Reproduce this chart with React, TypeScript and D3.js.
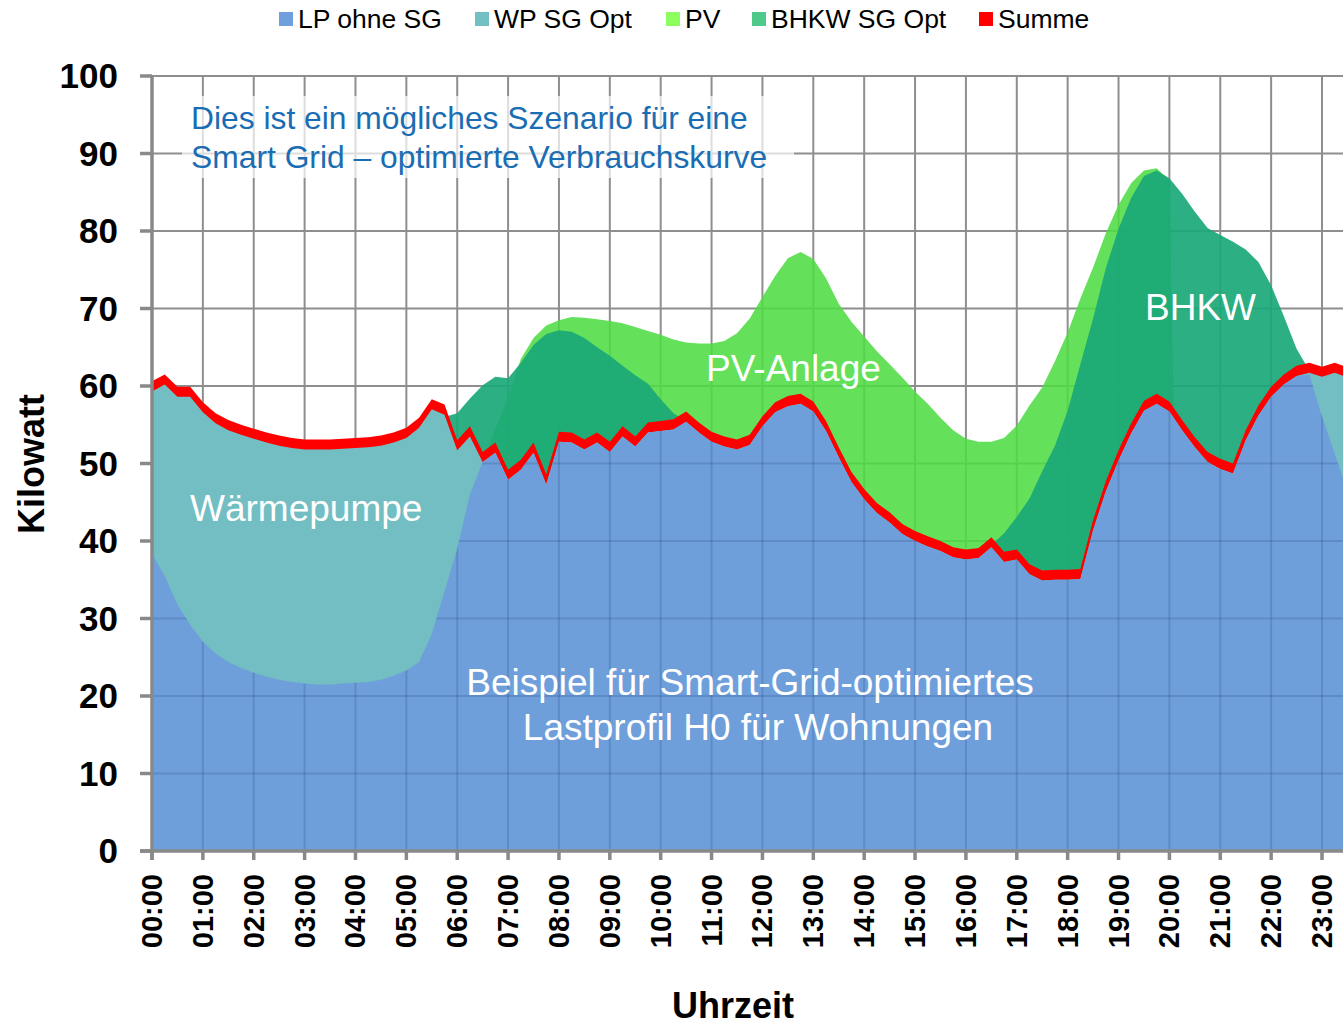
import * as d3 from "d3";
import React, { useEffect, useRef } from "react";

// 15-minute values, one row per hour (00:00 ... 23:45)
const hourLabels = [
  "00:00", "01:00", "02:00", "03:00", "04:00", "05:00", "06:00", "07:00",
  "08:00", "09:00", "10:00", "11:00", "12:00", "13:00", "14:00", "15:00",
  "16:00", "17:00", "18:00", "19:00", "20:00", "21:00", "22:00", "23:00",
];
const yTicks = [0, 10, 20, 30, 40, 50, 60, 70, 80, 90, 100];

const lpOhneSG = [
  38.4, 35.5, 31.8, 29.2,
  27.0, 25.5, 24.4, 23.6,
  23.0, 22.5, 22.1, 21.8,
  21.6, 21.5, 21.5, 21.6,
  21.7, 21.8, 22.1, 22.6,
  23.3, 24.4, 28.0, 33.5,
  39.0, 46.0, 50.2, 51.4,
  47.9, 49.2, 51.4, 47.3,
  52.8, 52.7, 51.8, 52.7,
  51.5, 53.5, 52.2, 54.0,
  54.2, 54.4, 55.4, 54.0,
  52.8, 52.2, 51.8, 52.4,
  54.8, 56.6, 57.4, 57.7,
  56.7, 54.2, 50.8, 47.6,
  45.4, 43.6, 42.4, 40.9,
  40.0, 39.3, 38.7, 37.9,
  37.6, 37.8, 39.2, 37.3,
  37.6, 35.7, 34.9, 35.0,
  35.0, 35.1, 41.4, 46.4,
  50.4, 53.9, 56.8, 57.7,
  56.7, 54.3, 52.1, 50.2,
  49.3, 48.7, 53.0, 56.2,
  58.6, 60.2, 61.3, 61.5,
  56.1, 51.3, 46.5, 42.0,
];

const wpSgOpt = [
  59.3, 60.2, 58.6, 58.6,
  56.6, 55.2, 54.3, 53.7,
  53.2, 52.7, 52.3, 52.0,
  51.8, 51.8, 51.8, 51.9,
  52.0, 52.1, 52.3, 52.7,
  53.3, 54.6, 57.0, 56.3,
  51.7, 53.5, 50.2, 51.4,
  47.9, 49.2, 51.4, 47.3,
  52.8, 52.7, 51.8, 52.7,
  51.5, 53.5, 52.2, 54.0,
  54.2, 54.4, 55.4, 54.0,
  52.8, 52.2, 51.8, 52.4,
  54.8, 56.6, 57.4, 57.7,
  56.7, 54.2, 50.8, 47.6,
  45.4, 43.6, 42.4, 40.9,
  40.0, 39.3, 38.7, 37.9,
  37.6, 37.8, 39.2, 37.3,
  37.6, 35.7, 34.9, 35.0,
  35.0, 35.1, 41.4, 46.4,
  50.4, 53.9, 56.8, 57.7,
  56.7, 54.3, 52.1, 50.2,
  49.3, 48.7, 53.0, 56.2,
  58.6, 60.2, 61.3, 61.7,
  61.2, 61.7, 61.1, 60.9,
];

const pv = [
  0, 0, 0, 0,
  0, 0, 0, 0,
  0, 0, 0, 0,
  0, 0, 0, 0,
  0, 0, 0, 0,
  0, 0, 0, 0,
  0, 0, 50.0, 54.5,
  58.5, 63.5, 66.2, 67.8,
  68.5, 68.9, 68.8, 68.6,
  68.4, 68.1, 67.6, 67.1,
  66.6, 66.0, 65.6, 65.5,
  65.5, 65.8, 66.8, 68.7,
  71.5, 74.2, 76.5, 77.3,
  76.4, 73.9, 70.6, 68.3,
  66.4, 64.5, 62.8, 61.1,
  59.3, 57.7, 55.9, 54.3,
  53.2, 52.8, 52.8, 53.3,
  54.9, 57.5, 59.8, 63.2,
  66.9, 71.3, 75.3, 79.7,
  83.4, 86.2, 87.8, 88.1,
  86.5, 0, 0, 0,
  0, 0, 0, 0,
  0, 0, 0, 0,
  0, 0, 0, 0,
];

const bhkwSgOpt = [
  0, 0, 0, 0,
  0, 0, 0, 0,
  0, 0, 0, 0,
  0, 0, 0, 0,
  0, 0, 0, 0,
  0, 0, 0, 56.0,
  56.5, 58.4, 60.1, 61.2,
  61.0, 63.0, 65.3, 66.7,
  67.2, 67.0, 66.2, 65.0,
  63.9, 62.6, 61.4, 60.3,
  58.3, 56.5, 55.5, 0,
  0, 0, 0, 0,
  0, 0, 0, 0,
  0, 0, 0, 0,
  0, 0, 0, 0,
  0, 0, 0, 0,
  0, 0, 39.5, 41.0,
  43.1, 45.5, 49.0, 52.3,
  56.8, 62.8, 68.7, 75.2,
  80.3, 84.3, 87.1, 87.8,
  86.8, 84.8, 82.5, 80.4,
  79.5, 78.6, 77.6, 76.0,
  73.0, 69.0, 64.8, 62.0,
  0, 0, 0, 0,
];

const summe = [
  60.6, 61.5, 59.9, 59.9,
  57.9, 56.5, 55.6, 55.0,
  54.5, 54.0, 53.6, 53.3,
  53.1, 53.1, 53.1, 53.2,
  53.3, 53.4, 53.6, 54.0,
  54.6, 55.9, 58.3, 57.6,
  53.0, 54.8, 51.5, 52.7,
  49.2, 50.5, 52.7, 48.6,
  54.1, 54.0, 53.1, 54.0,
  52.8, 54.8, 53.5, 55.3,
  55.5, 55.7, 56.7, 55.3,
  54.1, 53.5, 53.1, 53.7,
  56.1, 57.9, 58.7, 59.0,
  58.0, 55.5, 52.1, 48.9,
  46.7, 44.9, 43.7, 42.2,
  41.3, 40.6, 40.0, 39.2,
  38.9, 39.1, 40.5, 38.6,
  38.9, 37.0, 36.2, 36.3,
  36.3, 36.4, 42.7, 47.7,
  51.7, 55.2, 58.1, 59.0,
  58.0, 55.6, 53.4, 51.5,
  50.6, 50.0, 54.3, 57.5,
  59.9, 61.5, 62.6, 63.0,
  62.5, 63.0, 62.4, 62.2,
];

const legendNames = ["LP ohne SG", "WP SG Opt", "PV", "BHKW SG Opt", "Summe"];
const legendColors = ["#6f9fdd", "#72c0c4", "#8cff5e", "#4fc98a", "#ff0000"];
const legendX = [279, 475, 666, 752, 979];

const FONT = "'Liberation Sans', Arial, Helvetica, sans-serif";
const W = 1343;
const H = 1026;

const LoadChart: React.FC = () => {
  const svgRef = useRef<SVGSVGElement>(null);

  useEffect(() => {
    if (!svgRef.current) return;
    const svg = d3.select(svgRef.current);
    svg.selectAll("*").remove();

    const left = 152;
    const top = 76;
    const bottom = 851;

    // index 0 = 00:00, index 92 = 23:00
    const x = d3.scaleLinear().domain([0, 92]).range([left, 1322]);
    const y = d3.scaleLinear().domain([0, 100]).range([bottom, top]);

    const defs = svg.append("defs");
    defs
      .append("clipPath")
      .attr("id", "plot-clip")
      .append("rect")
      .attr("x", left)
      .attr("y", top - 2)
      .attr("width", W - left)
      .attr("height", bottom - top + 2);

    const area = d3
      .area<number>()
      .x((_, i) => x(i))
      .y0(y(0))
      .y1((d) => y(d));

    defs.append("clipPath").attr("id", "lp-clip").append("path").attr("d", area(lpOhneSG)!);

    const grid = (g: d3.Selection<SVGGElement, unknown, null, undefined>, color: string) => {
      g.selectAll("line.h")
        .data(yTicks.slice(1))
        .enter()
        .append("line")
        .attr("x1", left)
        .attr("x2", W)
        .attr("y1", (d) => y(d))
        .attr("y2", (d) => y(d))
        .attr("stroke", color)
        .attr("stroke-width", 2);
      g.selectAll("line.v")
        .data(hourLabels.slice(1))
        .enter()
        .append("line")
        .attr("x1", (_, i) => x((i + 1) * 4))
        .attr("x2", (_, i) => x((i + 1) * 4))
        .attr("y1", top)
        .attr("y2", bottom)
        .attr("stroke", color)
        .attr("stroke-width", 2);
    };

    grid(svg.append("g"), "#8e8e8e");

    const plot = svg.append("g").attr("clip-path", "url(#plot-clip)");

    plot.append("path").attr("d", area(pv)!).attr("fill", "#4edc44").attr("fill-opacity", 0.88);
    plot.append("path").attr("d", area(bhkwSgOpt)!).attr("fill", "#1aa877").attr("fill-opacity", 0.92);
    plot.append("path").attr("d", area(summe)!).attr("fill", "#ff0000");
    plot.append("path").attr("d", area(wpSgOpt)!).attr("fill", "#72bec3");
    plot.append("path").attr("d", area(lpOhneSG)!).attr("fill", "#6e9fda");

    // faint gridlines showing through the load profile area
    grid(
      plot.append("g").attr("clip-path", "url(#lp-clip)"),
      "rgba(30,60,120,0.2)"
    );

    // text box
    svg
      .append("rect")
      .attr("x", 182)
      .attr("y", 96)
      .attr("width", 612)
      .attr("height", 82)
      .attr("fill", "#ffffff")
      .attr("fill-opacity", 0.7);

    const note = svg
      .append("text")
      .attr("font-family", FONT)
      .attr("font-size", 31.8)
      .attr("fill", "#1a6db3");
    note.append("tspan").attr("x", 191).attr("y", 129).text("Dies ist ein mögliches Szenario für eine");
    note.append("tspan").attr("x", 191).attr("y", 168).text("Smart Grid – optimierte Verbrauchskurve");

    const labels = [
      { t: "Wärmepumpe", x: 190, y: 521, a: "start" },
      { t: "PV-Anlage", x: 706, y: 381, a: "start" },
      { t: "BHKW", x: 1145, y: 320, a: "start" },
      { t: "Beispiel für Smart-Grid-optimiertes", x: 750, y: 695, a: "middle" },
      { t: "Lastprofil H0 für Wohnungen", x: 758, y: 740, a: "middle" },
    ];
    svg
      .selectAll("text.lbl")
      .data(labels)
      .enter()
      .append("text")
      .attr("x", (d) => d.x)
      .attr("y", (d) => d.y)
      .attr("text-anchor", (d) => d.a)
      .attr("font-family", FONT)
      .attr("font-size", 37)
      .attr("fill", "#ffffff")
      .text((d) => d.t);

    // axes
    const axisColor = "#898989";
    svg
      .append("line")
      .attr("x1", left)
      .attr("x2", left)
      .attr("y1", top - 1)
      .attr("y2", bottom + 9)
      .attr("stroke", axisColor)
      .attr("stroke-width", 3.5);
    svg
      .append("line")
      .attr("x1", left - 12)
      .attr("x2", W)
      .attr("y1", bottom)
      .attr("y2", bottom)
      .attr("stroke", axisColor)
      .attr("stroke-width", 3.5);

    svg
      .selectAll("line.ytick")
      .data(yTicks)
      .enter()
      .append("line")
      .attr("x1", left - 12)
      .attr("x2", left)
      .attr("y1", (d) => y(d))
      .attr("y2", (d) => y(d))
      .attr("stroke", axisColor)
      .attr("stroke-width", 3.5);

    svg
      .selectAll("text.ytick")
      .data(yTicks)
      .enter()
      .append("text")
      .attr("x", 118)
      .attr("y", (d) => y(d) + 12)
      .attr("text-anchor", "end")
      .attr("font-family", FONT)
      .attr("font-weight", "bold")
      .attr("font-size", 35)
      .attr("fill", "#000")
      .text((d) => d);

    svg
      .selectAll("line.xtick")
      .data(hourLabels)
      .enter()
      .append("line")
      .attr("x1", (_, i) => x(i * 4))
      .attr("x2", (_, i) => x(i * 4))
      .attr("y1", bottom)
      .attr("y2", bottom + 9)
      .attr("stroke", axisColor)
      .attr("stroke-width", 3.5);

    svg
      .selectAll("text.xtick")
      .data(hourLabels)
      .enter()
      .append("text")
      .attr("transform", (_, i) => `translate(${x(i * 4) + 10},874) rotate(-90)`)
      .attr("text-anchor", "end")
      .attr("font-family", FONT)
      .attr("font-weight", "bold")
      .attr("font-size", 29)
      .attr("fill", "#000")
      .text((d) => d);

    svg
      .append("text")
      .attr("transform", "translate(44,464) rotate(-90)")
      .attr("text-anchor", "middle")
      .attr("font-family", FONT)
      .attr("font-weight", "bold")
      .attr("font-size", 36)
      .text("Kilowatt");

    svg
      .append("text")
      .attr("x", 733)
      .attr("y", 1018)
      .attr("text-anchor", "middle")
      .attr("font-family", FONT)
      .attr("font-weight", "bold")
      .attr("font-size", 36)
      .text("Uhrzeit");

    // legend
    const leg = svg
      .selectAll("g.leg")
      .data(legendNames)
      .enter()
      .append("g")
      .attr("transform", (_, i) => `translate(${legendX[i]},0)`);
    leg
      .append("rect")
      .attr("x", 0)
      .attr("y", 12)
      .attr("width", 14)
      .attr("height", 14)
      .attr("fill", (_, i) => legendColors[i]);
    leg
      .append("text")
      .attr("x", 19)
      .attr("y", 28)
      .attr("font-family", FONT)
      .attr("font-size", 26.5)
      .attr("fill", "#000")
      .text((d) => d);
  }, []);

  return (
    <svg
      ref={svgRef}
      width={W}
      height={H}
      style={{ position: "absolute", left: 0, top: 0, background: "#fff" }}
    />
  );
};

export default function App() {
  return <LoadChart />;
}
